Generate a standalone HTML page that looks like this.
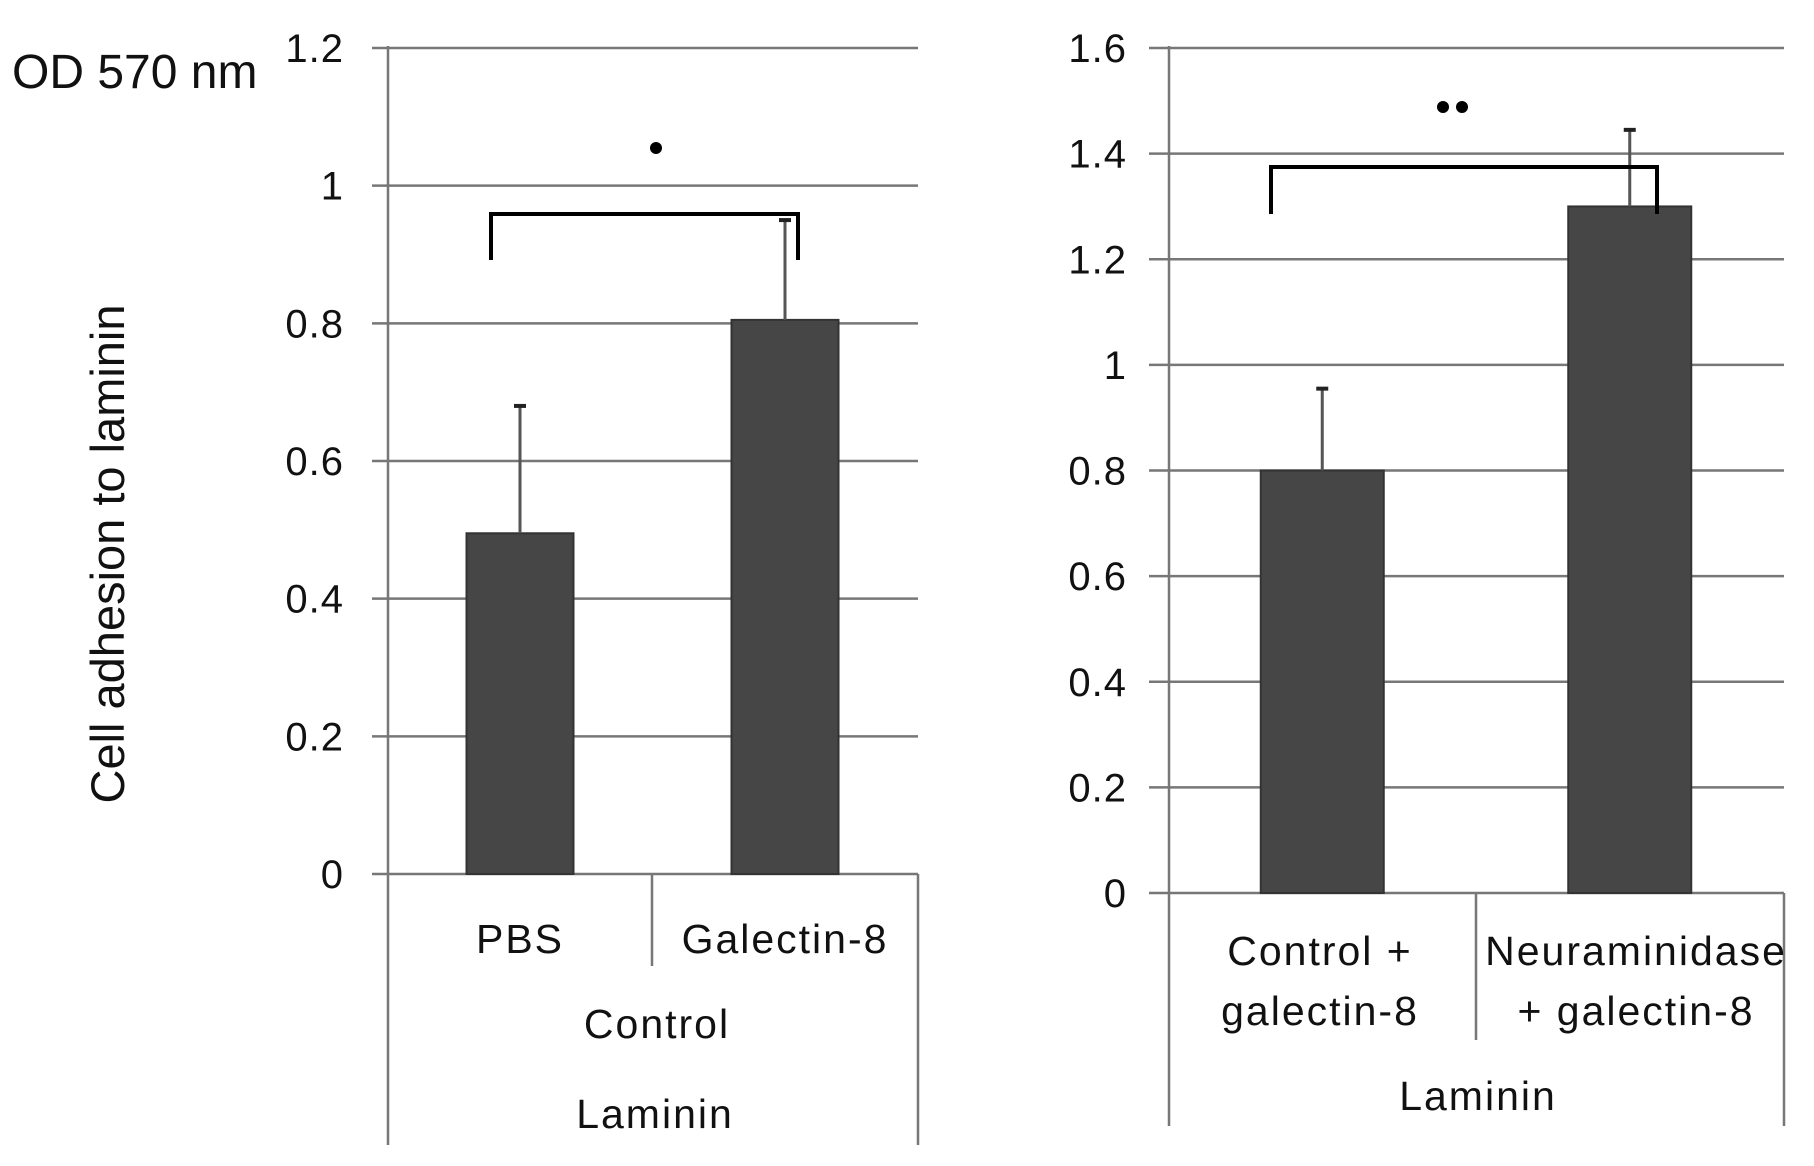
<!DOCTYPE html>
<html><head><meta charset="utf-8"><style>
html,body{margin:0;padding:0;background:#fff;}
svg{display:block;font-family:"Liberation Sans",sans-serif;}
</style></head><body>
<svg id="c" width="1814" height="1166" viewBox="0 0 1814 1166" xmlns="http://www.w3.org/2000/svg">
<text x="12" y="88" font-size="48" fill="#111">OD 570 nm</text>
<text transform="translate(124,554) rotate(-90)" text-anchor="middle" font-size="47" fill="#111">Cell adhesion to laminin</text>
<g id="left"></g>
<g id="right"></g>
</svg>
<script>
const leftCats=["PBS","Galectin-8"];
const leftVals=[0.495,0.805];
const leftErr=[0.185,0.145];
const leftTicks=[0,0.2,0.4,0.6,0.8,1,1.2];
const rightCats=[["Control +","galectin-8"],["Neuraminidase","+ galectin-8"]];
const rightVals=[0.8,1.3];
const rightErr=[0.155,0.145];
const rightTicks=[0,0.2,0.4,0.6,0.8,1,1.2,1.4,1.6];
const NS="http://www.w3.org/2000/svg";
function mk(p,t,a,txt){const e=document.createElementNS(NS,t);for(const k in a)e.setAttribute(k,a[k]);if(txt!==undefined)e.textContent=txt;p.appendChild(e);return e;}
function chart(g,o){
  const y=v=>o.y0+(o.y1-o.y0)*v/o.max;
  o.ticks.forEach(t=>{
    const l=mk(g,'line',{x1:o.tickX,x2:o.gr,y1:y(t),y2:y(t),stroke:'#777','stroke-width':2.5});
    
    
    const tx=mk(g,'text',{x:o.labX,y:y(t)+14,'text-anchor':'end','font-size':40,'letter-spacing':1,fill:'#111'},String(t));
    
    
  });
  const ax=mk(g,'line',{x1:o.ax,x2:o.ax,y1:y(o.max)-2,y2:o.outerB,stroke:'#777','stroke-width':2.5});
  
  
  const rl=mk(g,'line',{x1:o.gr,x2:o.gr,y1:y(0),y2:o.outerB,stroke:'#777','stroke-width':2.5});
  
  
  const dv=mk(g,'line',{x1:o.div,x2:o.div,y1:y(0),y2:o.divB,stroke:'#777','stroke-width':2.5});
  
  
  const bw=o.bw, slot=(o.gr-o.ax)/o.vals.length;
  o.vals.forEach((v,i)=>{
    const cx=o.ax+slot*(i+0.5)+o.shift;
    const b=mk(g,'rect',{x:cx-bw/2,y:y(v),width:bw,height:y(0)-y(v),fill:'#464646',stroke:'#333','stroke-width':2});
    
    
    const e=mk(g,'line',{x1:cx,x2:cx,y1:y(v),y2:y(v+o.err[i]),stroke:'#555','stroke-width':3});
    
    
    const c=mk(g,'line',{x1:cx-6,x2:cx+6,y1:y(v+o.err[i]),y2:y(v+o.err[i]),stroke:'#222','stroke-width':4});
    
    
    const lab=[].concat(o.cats[i]);
    const lx=o.labCx[i];
    lab.forEach((s,j)=>{
      const t=mk(g,'text',{x:lx,y:o.catY+j*o.catDy,'text-anchor':'middle','font-size':41,'letter-spacing':2,fill:'#111'},s);
      
      
    });
  });
  o.groups.forEach(gr=>{
    const t=mk(g,'text',{x:gr[0],y:gr[1],'text-anchor':'middle','font-size':41,'letter-spacing':2,fill:'#111'},gr[2]);
    
    
  });
  const br=mk(g,'path',{d:`M${o.br[0]} ${o.br[3]} V${o.br[2]} H${o.br[1]} V${o.br[3]}`,fill:'none',stroke:'#000','stroke-width':4});
  
  
  o.stars.forEach(sx=>{
    const s=mk(g,'circle',{cx:sx,cy:o.starY,r:6,fill:'#000'});
    
    
  });
}
chart(document.getElementById('left'),{y0:874,y1:48,max:1.2,ticks:leftTicks,tickX:372,gr:918,labX:344,ax:388,outerB:1145,div:652,divB:966,
  vals:leftVals,err:leftErr,cats:leftCats,bw:107,shift:-0.5,labCx:[520,785],catY:953,catDy:0,
  groups:[[657,1038,'Control'],[655,1128,'Laminin']],br:[491,798,214,260],stars:[656],starY:148});
chart(document.getElementById('right'),{y0:893,y1:48,max:1.6,ticks:rightTicks,tickX:1149,gr:1784,labX:1127,ax:1169,outerB:1126,div:1476,divB:1040,
  vals:rightVals,err:rightErr,cats:rightCats,bw:123,shift:-0.5,labCx:[1320,1636],catY:965,catDy:60,
  groups:[[1478,1110,'Laminin']],br:[1271,1657,167,214],stars:[1443,1462],starY:107});
</script>
</body></html>
